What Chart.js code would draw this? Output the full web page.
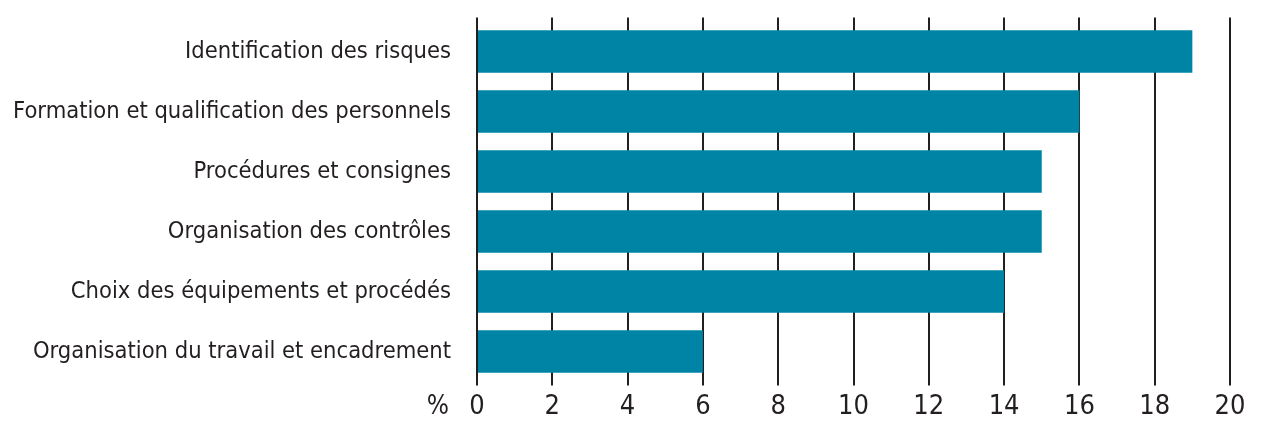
<!DOCTYPE html>
<html><head><meta charset="utf-8">
<script src="https://cdn.jsdelivr.net/npm/chart.js@4.4.0/dist/chart.umd.min.js"></script>
<style>html,body{margin:0;padding:0;background:#fff}#wrap{width:1265px;height:433px;position:relative}</style>
</head><body><div id="wrap"><canvas id="c" width="1265" height="433"></canvas></div>
<script>
const categories = ["Identification des risques","Formation et qualification des personnels","Procédures et consignes","Organisation des contrôles","Choix des équipements et procédés","Organisation du travail et encadrement"];
const values = [19,16,15,15,14,6];
const xTicks = [0,2,4,6,8,10,12,14,16,18,20];
const unitLabel = "%";

const FONT = "'Liberation Sans Narrow','DejaVu Sans Condensed','Roboto Condensed',sans-serif";
const TXT = "#231f20";

const unitPlugin = {
  id:'unit',
  afterDraw(chart){
    const ctx = chart.ctx, x = chart.scales.x;
    ctx.save();
    ctx.font = "26px " + FONT;
    ctx.fillStyle = TXT;
    ctx.textAlign = 'right';
    ctx.textBaseline = 'middle';
    ctx.fillText(unitLabel, x.left - 28, 407);
    ctx.restore();
  }
};

new Chart(document.getElementById('c'), {
  type:'bar',
  data:{labels:categories, datasets:[{data:values, backgroundColor:'#0084a6', borderWidth:0, barPercentage:0.71, categoryPercentage:1}]},
  options:{
    indexAxis:'y', responsive:false, animation:false,
    layout:{padding:{left:0,right:35,top:0,bottom:0}},
    plugins:{legend:{display:false}, tooltip:{enabled:false}},
    scales:{
      x:{position:'bottom', min:0, max:20,
        afterBuildTicks(s){ s.ticks = xTicks.map(v=>({value:v})); },
        afterFit(s){ s.height = 51.5; },
        grid:{color:TXT, lineWidth:2, drawTicks:true, tickLength:4, tickColor:TXT},
        border:{display:false},
        ticks:{color:TXT, font:{family:FONT, size:27}, padding:5, maxRotation:0}
      },
      x2:{position:'top', min:0, max:20, axis:'x',
        afterBuildTicks(s){ s.ticks = xTicks.map(v=>({value:v})); },
        afterFit(s){ s.height = 21.5; },
        grid:{color:TXT, lineWidth:2, drawOnChartArea:false, drawTicks:true, tickLength:4, tickColor:TXT},
        border:{display:false},
        ticks:{display:false}
      },
      y:{
        afterFit(s){ s.width = 477; },
        grid:{display:true, drawOnChartArea:false, drawTicks:true, tickLength:26, tickColor:'rgba(0,0,0,0)'},
        border:{display:false},
        ticks:{color:TXT, font:{family:FONT, size:23.5}, padding:0}
      }
    }
  },
  plugins:[unitPlugin]
});
</script></body></html>
